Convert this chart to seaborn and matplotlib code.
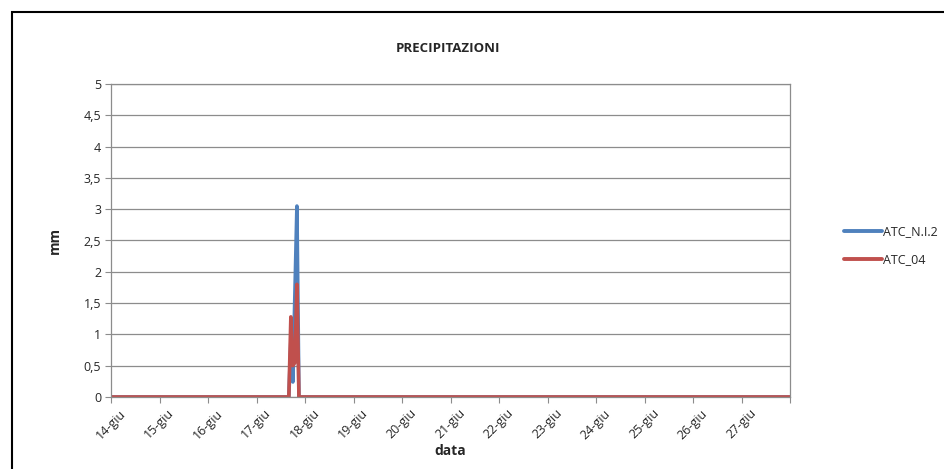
import pandas as pd
import numpy as np
import matplotlib
matplotlib.use('Agg')
import matplotlib.pyplot as plt
import matplotlib.dates as mdates
import matplotlib.transforms as mtransforms
from matplotlib.patches import Rectangle
import seaborn as sns

# Data (hourly rain, mm); zero outside the spike
times = ['2013-06-14 00:00', '2013-06-17 16:00', '2013-06-17 17:00', '2013-06-17 18:00',
         '2013-06-17 19:00', '2013-06-17 20:00', '2013-06-17 21:00', '2013-06-28 00:00']
atc_ni2 = [0, 0, 0.9, 0.24, 1.65, 3.05, 0, 0]
atc_04 = [0, 0, 1.28, 0.5, 0.55, 1.8, 0, 0]
series_names = ['ATC_N.I.2', 'ATC_04']
series_colors = ['#4F81BD', '#C0504D']
day_labels = ['14-giu', '15-giu', '16-giu', '17-giu', '18-giu', '19-giu', '20-giu',
              '21-giu', '22-giu', '23-giu', '24-giu', '25-giu', '26-giu', '27-giu']
y_ticks = [0, 0.5, 1, 1.5, 2, 2.5, 3, 3.5, 4, 4.5, 5]

df = pd.DataFrame({
    'data': pd.to_datetime(times * 2),
    'mm': atc_ni2 + atc_04,
    'serie': [series_names[0]] * len(times) + [series_names[1]] * len(times),
})

sns.set_style('white')
plt.rcParams['font.family'] = ['Open Sans', 'DejaVu Sans']

fig = plt.figure(figsize=(9.45, 4.69), dpi=100)
ax = fig.add_axes([111 / 945, 1 - 397 / 469, (790 - 111) / 945, (397 - 84) / 469])

sns.lineplot(data=df, x='data', y='mm', hue='serie', hue_order=series_names,
             palette=series_colors, linewidth=2.6, ax=ax)

start = pd.Timestamp('2013-06-14')
end = pd.Timestamp('2013-06-28')
ax.set_xlim(start, end)
ax.set_ylim(0, 5)

day_ticks = pd.date_range(start, end, freq='D')
ax.set_xticks(day_ticks)
ax.set_xticklabels(day_labels + [''], rotation=45, ha='center', fontsize=9)
offset = mtransforms.ScaledTranslation(10 / 100, -2 / 100, fig.dpi_scale_trans)
for lab in ax.get_xticklabels():
    lab.set_transform(lab.get_transform() + offset)

ax.set_yticks(y_ticks)
ax.set_yticklabels([f'{v:g}'.replace('.', ',') for v in y_ticks], fontsize=9)

ax.grid(axis='y', color='#8c8c8c', linewidth=0.9)
ax.set_axisbelow(True)
for s in ax.spines.values():
    s.set_color('#8c8c8c')
    s.set_linewidth(0.9)
ax.tick_params(axis='both', which='major', length=4, color='#8c8c8c', direction='out',
               bottom=True, left=True, pad=3)

ax.set_xlabel('data', fontsize=10, fontweight='bold', labelpad=2)
ax.set_ylabel('mm', fontsize=10, fontweight='bold', labelpad=16)
fig.text(448 / 945, 1 - 48 / 469, 'PRECIPITAZIONI', fontsize=9.5, fontweight='bold',
         ha='center', va='center')

leg = ax.legend(loc='center left', bbox_to_anchor=(833 / 945, 1 - 246 / 469),
                bbox_transform=fig.transFigure, frameon=False, fontsize=9,
                handlelength=3.0, handletextpad=0.1, labelspacing=1.2)
for line in leg.get_lines():
    line.set_linewidth(2.8)

fig.patches.append(Rectangle((12 / 945, -0.1), 1.2, 1 - 12 / 469 + 0.1,
                             transform=fig.transFigure, fill=False,
                             edgecolor='black', linewidth=1.5))

fig.savefig('out.png', dpi=100)
